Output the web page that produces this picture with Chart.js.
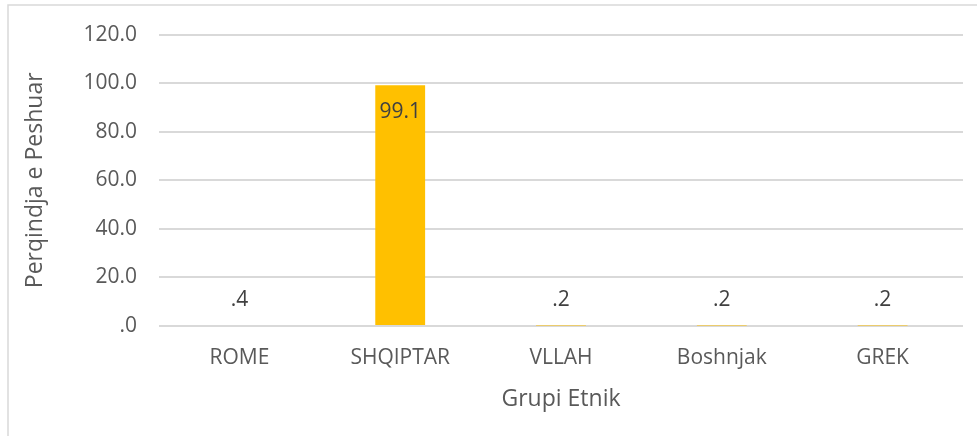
<!DOCTYPE html>
<html>
<head>
<meta charset="utf-8">
<script src="https://cdn.jsdelivr.net/npm/chart.js@4/dist/chart.umd.min.js"></script>
<style>
  html, body { margin: 0; padding: 0; background: #fff; }
  #wrap { width: 977px; height: 436px; }
</style>
</head>
<body>
<div id="wrap"><canvas id="groupChart" width="977" height="436"></canvas></div>
<script>
// chart data
const categories = ['ROME', 'SHQIPTAR', 'VLLAH', 'Boshnjak', 'GREK'];
const weightedPct = [0.4, 99.1, 0.2, 0.2, 0.2];
const yTicks = [0, 20, 40, 60, 80, 100, 120];

const textGray = '#595959';
const fontFamily = '"Open Sans", "Noto Sans", sans-serif';

// excel style number: .4 instead of 0.4
function fmt(v) {
  return Number(v).toFixed(1).replace(/^0\./, '.');
}

// light frame on top and left, like the cropped chart box
const framePlugin = {
  id: 'frame',
  beforeDraw(chart) {
    const ctx = chart.ctx;
    ctx.save();
    ctx.strokeStyle = '#d9d9d9';
    ctx.lineWidth = 1.5;
    ctx.beginPath();
    ctx.moveTo(8, chart.height);
    ctx.lineTo(8, 5);
    ctx.lineTo(chart.width, 5);
    ctx.stroke();
    ctx.restore();
  }
};

// value labels: inside the top of tall bars, above short ones
const valueLabels = {
  id: 'valueLabels',
  afterDatasetsDraw(chart) {
    const ctx = chart.ctx;
    const meta = chart.getDatasetMeta(0);
    ctx.save();
    ctx.font = '21px ' + fontFamily;
    ctx.fillStyle = '#404040';
    ctx.textAlign = 'center';
    ctx.textBaseline = 'middle';
    meta.data.forEach((bar, i) => {
      const v = chart.data.datasets[0].data[i];
      const y = v > 10 ? bar.y + 27 : bar.y - 25;
      ctx.fillText(fmt(v), bar.x, y);
    });
    ctx.restore();
  }
};

const ctx = document.getElementById('groupChart').getContext('2d');
const groupChart = new Chart(ctx, {
  type: 'bar',
  data: {
    labels: categories,
    datasets: [{
      label: 'Perqindja e Peshuar',
      data: weightedPct,
      backgroundColor: '#FFC000',
      borderWidth: 0,
      barPercentage: 0.31,
      categoryPercentage: 1
    }]
  },
  options: {
    responsive: false,
    animation: false,
    layout: {
      padding: { top: 34, right: 14, bottom: 0, left: 0 }
    },
    plugins: {
      legend: { display: false },
      tooltip: { enabled: false }
    },
    scales: {
      x: {
        grid: { display: false, drawTicks: false },
        border: { display: false },
        ticks: {
          color: textGray,
          font: { size: 21, family: fontFamily },
          padding: 19,
          maxRotation: 0
        },
        title: {
          display: true,
          text: 'Grupi Etnik',
          color: textGray,
          font: { size: 23, family: fontFamily },
          padding: { top: 0, bottom: 23 }
        },
        afterFit(scale) { scale.height = 110; }
      },
      y: {
        min: 0,
        max: 120,
        afterBuildTicks(scale) {
          scale.ticks = yTicks.map(v => ({ value: v }));
        },
        grid: { color: '#d9d9d9', lineWidth: 2, drawTicks: false },
        border: { display: false },
        ticks: {
          color: textGray,
          font: { size: 21, family: fontFamily },
          padding: 22,
          callback: v => fmt(v)
        },
        title: {
          display: true,
          text: 'Perqindja e Peshuar',
          color: textGray,
          font: { size: 23, family: fontFamily },
          padding: { top: 22, bottom: 0 }
        },
        afterFit(scale) { scale.width = 159; }
      }
    }
  },
  plugins: [framePlugin, valueLabels]
});
</script>
</body>
</html>
